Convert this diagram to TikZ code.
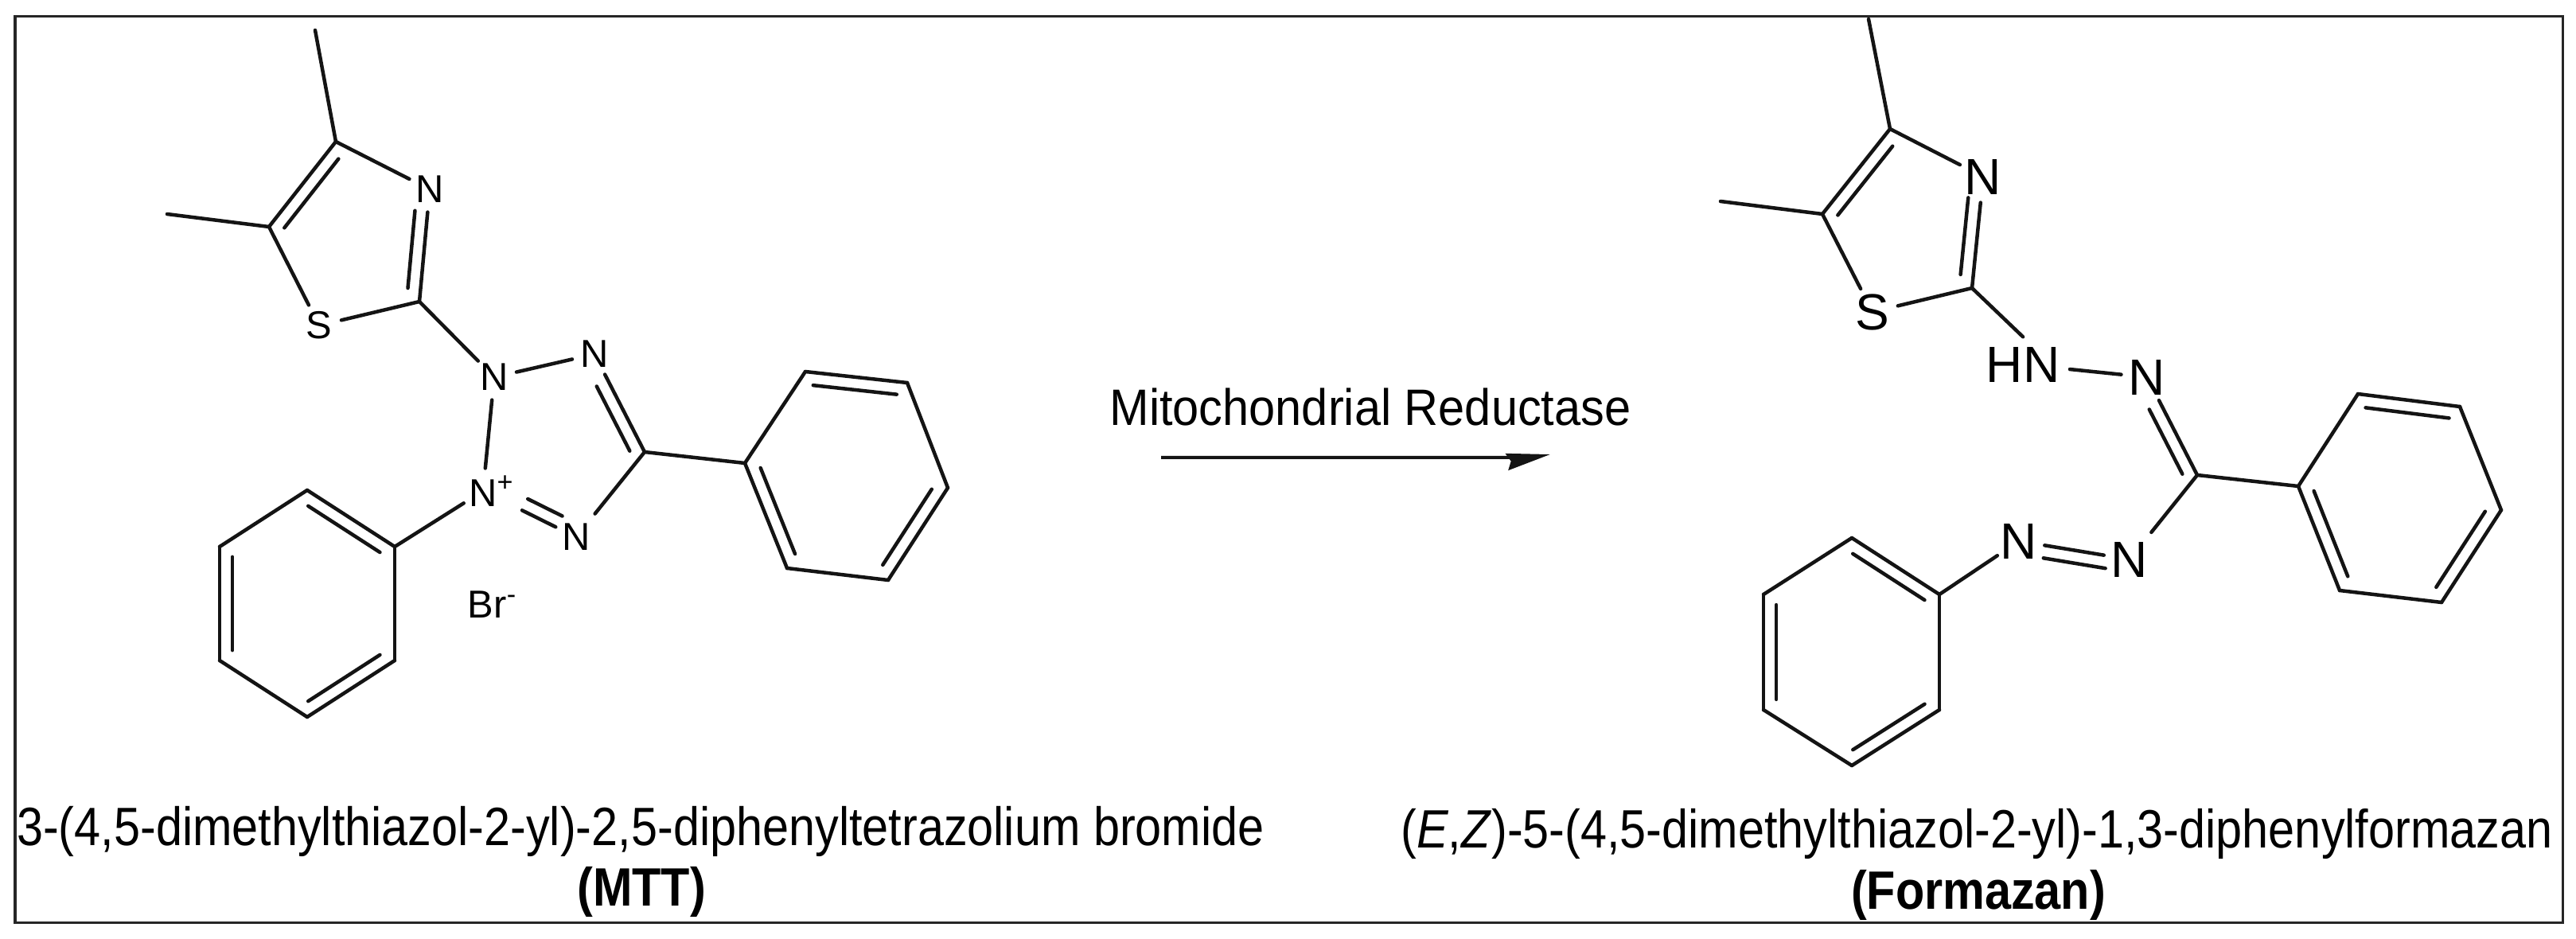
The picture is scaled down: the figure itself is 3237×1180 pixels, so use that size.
\documentclass[tikz,border=0pt]{standalone}
\usepackage{fontspec}
\setmainfont{Liberation Sans}
\newfontfamily\namefont[FakeStretch=.875]{Liberation Sans}
\newfontfamily\enzymefont[FakeStretch=.925]{Liberation Sans}
\usetikzlibrary{calc,arrows.meta}

\definecolor{bondcol}{HTML}{141414}

% inner stroke of a double bond: ends, start and stop as fractions of the bond
\newcommand{\innerbond}[4]{
  \draw[bond] ($(#1)!#3!(#2)!.16cm!90:(#2)$) -- ($(#1)!#4!(#2)!.16cm!-90:(#1)$);
}

\begin{document}
\begin{tikzpicture}[x=.01cm,y=-.01cm,
  bond/.style={draw=bondcol,line width=.045cm,line cap=round},
  small atom/.style={circle,inner sep=0,minimum size=.56cm,font=\fontsize{13.9}{16}\selectfont},
  big atom/.style={circle,inner sep=0,minimum size=.64cm,font=\fontsize{18.2}{20}\selectfont},
  name text/.style={inner sep=0,anchor=base,font=\namefont\fontsize{19.3}{22}\selectfont}]

  \path[fill=white,use as bounding box] (0,0) rectangle (3237,1180);
  \draw[line width=.03cm,black!85] (19,21) rectangle (3220,1159);

  % MTT
  \coordinate (mMe4) at (396,38);
  \coordinate (mC4) at (422,178);
  \coordinate (mMe5) at (210,269);
  \coordinate (mC5) at (338,285);
  \coordinate (mC2) at (527,379);
  \coordinate (mC5t) at (810,568);
  \node[small atom] (mN3) at (540,238) {N};
  \node[small atom] (mS) at (401,409) {S};
  \node[small atom] (mN1) at (621,474) {N};
  \node[small atom] (mN2) at (747,445) {N};
  \node[small atom] (mN4) at (724,675) {N};
  \node[small atom] (mNp) at (607,617) {N\rlap{\textsuperscript{+}}};
  \node[small atom] (mBr) at (619,760) {Br\textsuperscript{-}};

  \coordinate (mA1) at (936,582);
  \coordinate (mA2) at (989,714);
  \coordinate (mA3) at (1116,729);
  \coordinate (mA4) at (1191,613);
  \coordinate (mA5) at (1140,481);
  \coordinate (mA6) at (1012,467);

  \coordinate (mB1) at (496,687);
  \coordinate (mB2) at (386,616);
  \coordinate (mB3) at (276,687);
  \coordinate (mB4) at (276,830);
  \coordinate (mB5) at (386,901);
  \coordinate (mB6) at (496,830);

  \path[bond]
   (mMe4) edge (mC4)
   (mMe5) edge (mC5)
   (mC4) edge (mC5)
   (mC4) edge (mN3)
   (mN3) edge (mC2)
   (mC5) edge (mS)
   (mS) edge (mC2)
   (mC2) edge (mN1)
   (mN1) edge (mN2)
   (mN2) edge (mC5t)
   (mC5t) edge[shorten >=.09cm] (mN4)
   (mN1) edge (mNp)
   (mNp) edge[shorten <=.26cm] (mN4)
   (mC5t) edge (mA1)
   (mNp) edge (mB1)
   (mA1) edge (mA2) (mA2) edge (mA3) (mA3) edge (mA4)
   (mA4) edge (mA5) (mA5) edge (mA6) (mA6) edge (mA1)
   (mB1) edge (mB2) (mB2) edge (mB3) (mB3) edge (mB4)
   (mB4) edge (mB5) (mB5) edge (mB6) (mB6) edge (mB1);

  \innerbond{mC4}{mC5}{.11}{.92}
  \innerbond{mC2}{mN3}{.11}{.80}
  \innerbond{mC5t}{mN2}{.07}{.73}
  \innerbond{mNp}{mN4}{.42}{.79}
  \innerbond{mA1}{mA2}{.09}{.91}
  \innerbond{mA3}{mA4}{.09}{.91}
  \innerbond{mA5}{mA6}{.09}{.91}
  \innerbond{mB1}{mB2}{.09}{.91}
  \innerbond{mB3}{mB4}{.09}{.91}
  \innerbond{mB5}{mB6}{.09}{.91}

  % reaction
  \node[name text,font=\enzymefont\fontsize{18.3}{22}\selectfont] (rxnlabel) at (1722,535) {Mitochondrial Reductase};
  \coordinate (rxnstart) at (1459,575);
  \coordinate (rxnknee) at (1902,575);
  \coordinate (rxnbase) at (1902,579);
  \coordinate (rxntip) at (1948,571);
  \draw[line width=.04cm,bondcol,-{Stealth[length=.55cm,width=.21cm,inset=.05cm]}]
   (rxnstart) -- (rxnknee) -- (rxnbase) -- (rxntip);

  % formazan
  \coordinate (fMe4) at (2348,24);
  \coordinate (fC4) at (2375,162);
  \coordinate (fMe5) at (2162,253);
  \coordinate (fC5) at (2290,269);
  \coordinate (fC2) at (2478,362);
  \coordinate (fC) at (2761,597);
  \node[big atom] (fN3) at (2492,222) {N};
  \node[big atom] (fS) at (2353,392) {S};
  \node[big atom,circle=false,rectangle,inner sep=.12cm] (fHN) at (2542,458) {HN};
  \node[big atom] (fN2) at (2698,474) {N};
  \node[big atom] (fN4) at (2676,703) {N};
  \node[big atom] (fN5) at (2537,680) {N};

  \coordinate (fA1) at (2888,611);
  \coordinate (fA2) at (2940,742);
  \coordinate (fA3) at (3068,757);
  \coordinate (fA4) at (3143,641);
  \coordinate (fA5) at (3091,511);
  \coordinate (fA6) at (2963,495);

  \coordinate (fB1) at (2437,747);
  \coordinate (fB2) at (2327,676);
  \coordinate (fB3) at (2216,747);
  \coordinate (fB4) at (2216,892);
  \coordinate (fB5) at (2327,962);
  \coordinate (fB6) at (2437,892);

  \path[bond]
   (fMe4) edge (fC4)
   (fMe5) edge (fC5)
   (fC4) edge (fC5)
   (fC4) edge (fN3)
   (fN3) edge (fC2)
   (fC5) edge (fS)
   (fS) edge (fC2)
   (fC2) edge (fHN.north)
   (fHN) edge (fN2)
   (fN2) edge (fC)
   (fC) edge[shorten >=.11cm] (fN4)
   (fN4) edge (fN5)
   (fC) edge (fA1)
   (fN5) edge (fB1)
   (fA1) edge (fA2) (fA2) edge (fA3) (fA3) edge (fA4)
   (fA4) edge (fA5) (fA5) edge (fA6) (fA6) edge (fA1)
   (fB1) edge (fB2) (fB2) edge (fB3) (fB3) edge (fB4)
   (fB4) edge (fB5) (fB5) edge (fB6) (fB6) edge (fB1);

  \innerbond{fC4}{fC5}{.11}{.92}
  \innerbond{fC2}{fN3}{.11}{.80}
  \innerbond{fC}{fN2}{.07}{.73}
  \innerbond{fN4}{fN5}{.20}{.76}
  \innerbond{fA1}{fA2}{.09}{.91}
  \innerbond{fA3}{fA4}{.09}{.91}
  \innerbond{fA5}{fA6}{.09}{.91}
  \innerbond{fB1}{fB2}{.09}{.91}
  \innerbond{fB3}{fB4}{.09}{.91}
  \innerbond{fB5}{fB6}{.09}{.91}

  % names
  \node[name text] (mname) at (805,1062) {3-(4,5-dimethylthiazol-2-yl)-2,5-diphenyltetrazolium bromide};
  \node[name text] (mshort) at (806,1138) {\textbf{(MTT)}};
  \node[name text] (fname) at (2484,1065) {(\textit{E},\textit{Z})-5-(4,5-dimethylthiazol-2-yl)-1,3-diphenylformazan};
  \node[name text] (fshort) at (2486,1142) {\textbf{(Formazan)}};
\end{tikzpicture}
\end{document}
